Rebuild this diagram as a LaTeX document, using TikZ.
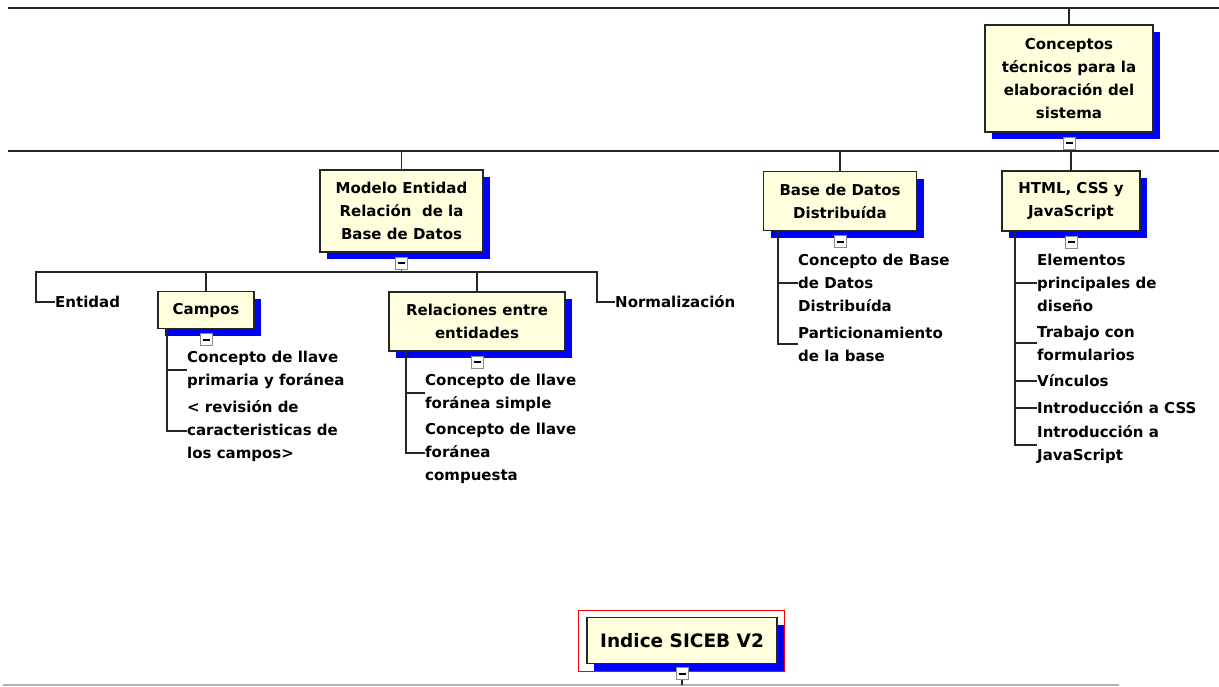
\documentclass[tikz,border=0pt]{standalone}
\usepackage{fontspec}
\setmainfont{DejaVu Sans}
\usetikzlibrary{positioning,shadows,fit}
\definecolor{note}{RGB}{255,255,221}
\tikzset{
  topic/.style={draw=black!85, line width=1.6pt, fill=note, inner sep=0pt, align=center,
    font=\fontsize{15}{23}\selectfont\bfseries,
    drop shadow={shadow xshift=7pt, shadow yshift=-7pt, fill=blue, opacity=1}},
  leaf/.style={anchor=west, inner sep=0pt, align=left, font=\fontsize{15}{23}\selectfont\bfseries},
  fold/.style={draw=black!45, fill=white, line width=1pt, minimum size=12pt, inner sep=0pt},
  link/.style={draw=black!85, line width=1.6pt}
}
\begin{document}
\begin{tikzpicture}[x=1pt,y=-1pt]
  \useasboundingbox (0,0) rectangle (1219,686);
  % main topics
  \node[topic, minimum width=168pt, minimum height=107pt] (concept) at (1069,78.5)
    {Conceptos\\técnicos para la\\elaboración del\\sistema};
  \node[topic, minimum width=163pt, minimum height=82pt] (modelo) at (401.5,211)
    {Modelo Entidad\\Relación\ \ de la\\Base de Datos};
  \node[topic, minimum width=153pt, minimum height=59pt] (bdd) at (840,201)
    {Base de Datos\\Distribuída};
  \node[topic, minimum width=138pt, minimum height=60pt] (html) at (1071,201)
    {HTML, CSS y\\JavaScript};
  \node[topic, minimum width=96pt, minimum height=37pt] (campos) at (206,310)
    {Campos};
  \node[topic, minimum width=176pt, minimum height=59pt] (rel) at (477,321.5)
    {Relaciones entre\\entidades};
  \node[draw=red, line width=1.4pt, minimum width=206pt, minimum height=61pt] (frame) at (681.5,641) {};
  \node[topic, minimum width=190pt, minimum height=46pt, font=\fontsize{18.5}{23}\selectfont\bfseries]
    (indice) at (682,640.5) {Indice SICEB V2};
  % leaves
  \node[leaf] (ent) at (55,302) {Entidad};
  \node[leaf] (norm) at (615,302) {Normalización};
  \node[leaf] (c1) at (187,370) {Concepto de llave\\primaria y foránea};
  \node[leaf] (c2) at (187,431) {< revisión de\\caracteristicas de\\los campos>};
  \node[leaf] (r1) at (425,393) {Concepto de llave\\foránea simple};
  \node[leaf] (r2) at (425,453) {Concepto de llave\\foránea\\compuesta};
  \node[leaf] (d1) at (798,283) {Concepto de Base\\de Datos\\Distribuída};
  \node[leaf] (d2) at (798,344) {Particionamiento\\de la base};
  \node[leaf] (h1) at (1037,283) {Elementos\\principales de\\diseño};
  \node[leaf] (h2) at (1037,343) {Trabajo con\\formularios};
  \node[leaf] (h3) at (1037,381) {Vínculos};
  \node[leaf] (h4) at (1037,408) {Introducción a CSS};
  \node[leaf] (h5) at (1037,445) {Introducción a\\JavaScript};
  % bars
  \coordinate (t1l) at (8,8);
  \coordinate (t1r) at (1219,8);
  \coordinate (t2l) at (8,151);
  \coordinate (t2r) at (1219,151);
  \coordinate (b3l) at (36,272);
  \coordinate (b3r) at (597,272);
  \coordinate (gl) at (3,685);
  \coordinate (gr) at (1119,685);
  \draw[link] (t1l) -- (t1r);
  \draw[link] (t2l) -- (t2r);
  \draw[black!30, line width=1.2pt] (gl) -- (gr);
  \draw[link] (concept.north) -- (concept.north |- t1l);
  \draw[link] (modelo.north) -- (modelo.north |- t2l);
  \draw[link] (bdd.north) -- (bdd.north |- t2l);
  \draw[link] (html.north) -- (html.north |- t2l);
  \draw[link] (ent.west) -| (b3l) -- (b3r) |- (norm.west);
  \draw[link] (campos.north) -- (campos.north |- b3l);
  \draw[link] (rel.north) -- (rel.north |- b3l);
  % fold markers
  \node[fold, below=4pt of concept] (m0) {\rule{7pt}{1.8pt}};
  \node[fold, below=4pt of modelo] (m1) {\rule{7pt}{1.8pt}};
  \node[fold, below=4pt of bdd] (m2) {\rule{7pt}{1.8pt}};
  \node[fold, below=4pt of html] (m3) {\rule{7pt}{1.8pt}};
  \node[fold, below=4pt of campos] (m4) {\rule{7pt}{1.8pt}};
  \node[fold, below=4pt of rel] (m5) {\rule{7pt}{1.8pt}};
  \node[fold, below=3pt of indice] (m6) {\rule{7pt}{1.8pt}};
  \draw[link] (m0.south) -- (m0.south |- t2l);
  \draw[link] (m1.south) -- (m1.south |- b3l);
  \draw[link] (m6.south) -- ++(0,5);
  % children
  \draw[link] ([xshift=10pt]campos.south west) |- (c1.west);
  \draw[link] ([xshift=10pt]campos.south west) |- (c2.west);
  \draw[link] ([xshift=18pt]rel.south west) |- (r1.west);
  \draw[link] ([xshift=18pt]rel.south west) |- (r2.west);
  \draw[link] ([xshift=15pt]bdd.south west) |- (d1.west);
  \draw[link] ([xshift=15pt]bdd.south west) |- (d2.west);
  \foreach \n in {h1,h2,h3,h4,h5}
    \draw[link] ([xshift=14pt]html.south west) |- (\n.west);
\end{tikzpicture}
\end{document}
